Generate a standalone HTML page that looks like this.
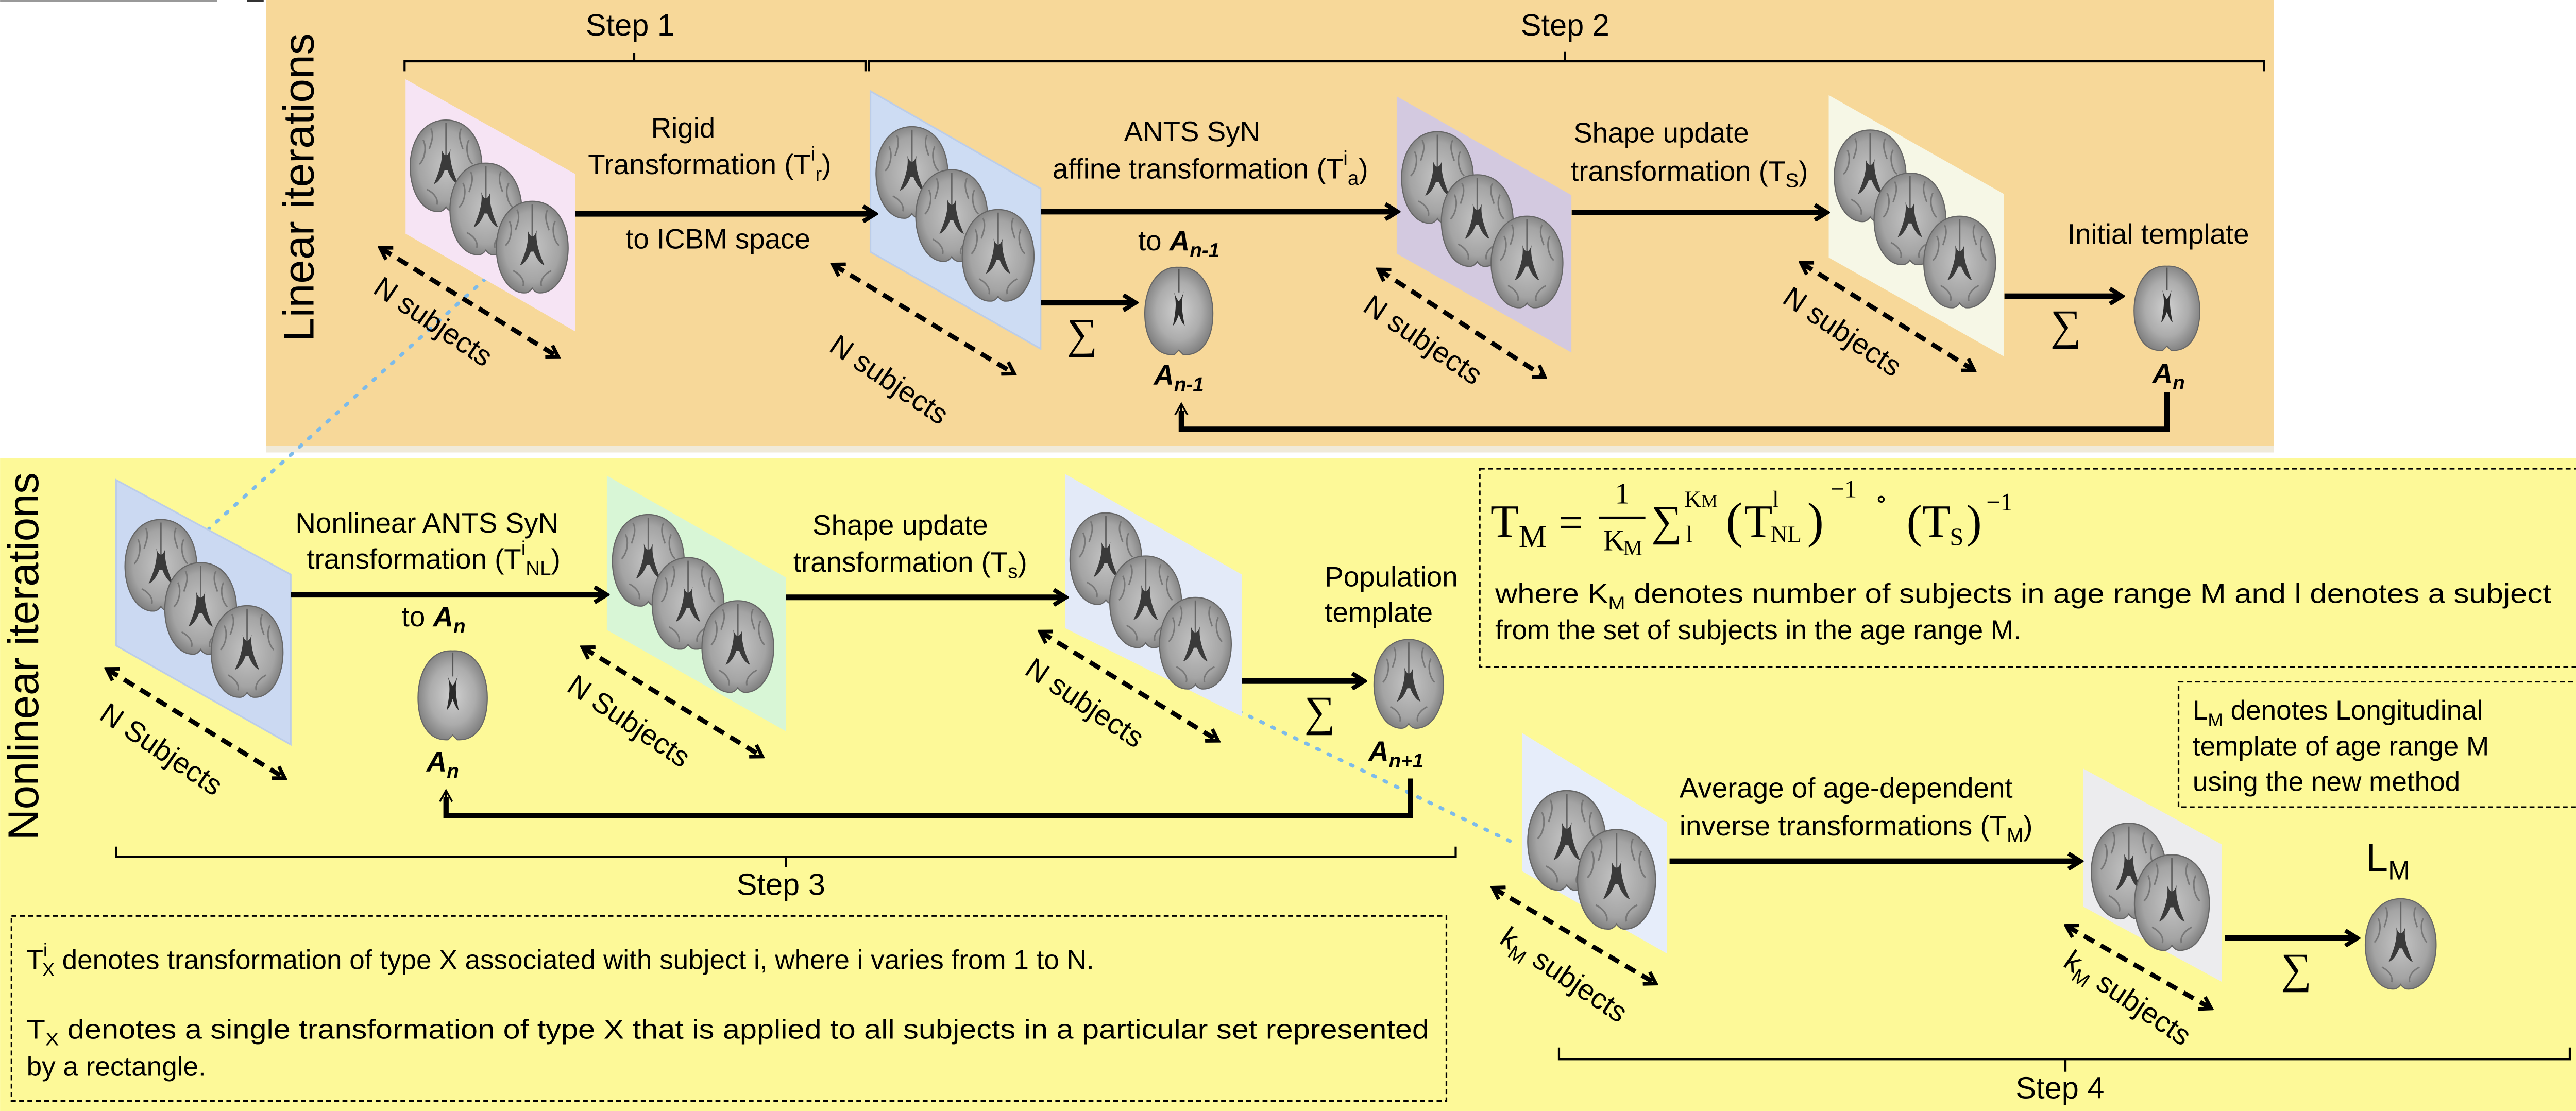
<!DOCTYPE html>
<html><head><meta charset="utf-8"><style>html,body{margin:0;padding:0;background:#fff}svg{display:block}</style></head>
<body>
<svg xmlns="http://www.w3.org/2000/svg" width="5046" height="2157" viewBox="0 0 1568 670.3" font-family="Liberation Sans, Arial, sans-serif">
<defs>
<marker id="a" viewBox="0 0 12 12" refX="9" refY="6" markerWidth="11" markerHeight="11" markerUnits="userSpaceOnUse" orient="auto-start-reverse"><path d="M2,1 L10,6 L2,11" fill="none" stroke="#000" stroke-width="2.8"/></marker>
<marker id="d" viewBox="0 0 12 12" refX="9" refY="6" markerWidth="10" markerHeight="10" markerUnits="userSpaceOnUse" orient="auto-start-reverse"><path d="M2,1 L10,6 L2,11" fill="none" stroke="#000" stroke-width="2.6"/></marker>
<marker id="t" viewBox="0 0 12 12" refX="10" refY="6" markerWidth="9" markerHeight="12" markerUnits="userSpaceOnUse" orient="auto"><path d="M1,1 L10,6 L1,11" fill="none" stroke="#000" stroke-width="1.4"/></marker>
<radialGradient id="g1" cx="50%" cy="50%" r="55%"><stop offset="0" stop-color="#c4c4c4"/><stop offset="0.7" stop-color="#a4a4a4"/><stop offset="1" stop-color="#7a7a7a"/></radialGradient>
<radialGradient id="g2" cx="50%" cy="50%" r="55%"><stop offset="0" stop-color="#d0d0d0"/><stop offset="0.6" stop-color="#acacac"/><stop offset="1" stop-color="#7c7c7c"/></radialGradient>
<symbol id="cor" viewBox="0 0 100 130">
<path d="M50,4 C82,4 98,35 97,68 C96,100 80,126 58,124 C53,123 50,118 50,118 C50,118 47,123 42,124 C20,126 4,100 3,68 C2,35 18,4 50,4Z" fill="url(#g1)" stroke="#666" stroke-width="1.5"/>
<path d="M50,8 L50,60" stroke="#666" stroke-width="2"/>
<path d="M44,42 C46,55 42,70 34,88 C40,86 45,78 48,70 L50,70 L52,70 C55,78 60,86 66,88 C58,70 54,55 56,42 C54,48 52,50 50,50 C48,50 46,48 44,42Z" fill="#3a3a3a"/>
<path d="M20,30 C25,40 22,55 15,62 M80,30 C75,40 78,55 85,62 M25,95 C35,100 40,108 38,115 M75,95 C65,100 60,108 62,115 M30,15 C35,25 30,35 28,42 M70,15 C65,25 70,35 72,42" stroke="#777" stroke-width="2" fill="none"/>
</symbol>
<symbol id="ax" viewBox="0 0 100 130">
<path d="M50,6 C80,4 96,35 96,68 C96,102 82,126 56,124 L50,118 L44,124 C18,126 4,102 4,68 C4,35 20,4 50,6Z" fill="url(#g2)" stroke="#666" stroke-width="1.5"/>
<path d="M50,8 L50,40" stroke="#555" stroke-width="2"/>
<path d="M42,35 C47,50 47,60 42,85 C47,80 49,72 50,70 C51,72 53,80 58,85 C53,60 53,50 58,35 C55,45 52,50 50,52 C48,50 45,45 42,35Z" fill="#2a2a2a"/>
</symbol>
</defs>

<rect x="0" y="0" width="1568" height="670.3" fill="#fff"/>
<line x1="0" y1="0.5" x2="131" y2="0.5" stroke="#999" stroke-width="1"/>
<line x1="149" y1="0.5" x2="159" y2="0.5" stroke="#333" stroke-width="1"/>
<rect x="0" y="276.3" width="1568" height="394" fill="#fdf998"/>
<rect x="160.5" y="0" width="1211" height="269" fill="#f7d899"/>
<rect x="160.5" y="269" width="1211" height="4" fill="#e6dcc0" opacity="0.6"/>

<text transform="translate(189,113) rotate(-90)" text-anchor="middle" font-size="26" textLength="186" lengthAdjust="spacing">Linear iterations</text>
<text transform="translate(23,396) rotate(-90)" text-anchor="middle" font-size="26" textLength="222" lengthAdjust="spacing">Nonlinear iterations</text>

<g fill="none" stroke="#000" stroke-width="1.3">
<path d="M244,43 L244,37 L522,37 L522,43 M382.5,37 L382.5,32"/>
<path d="M524,43 L524,37 L1365.6,37 L1365.6,43 M944,37 L944,31"/>
<path d="M70,510.8 L70,517 L878,517 L878,510.8 M474,517 L474,523"/>
<path d="M940.3,632 L940.3,639 L1550,639 L1550,632 M1245.8,639 L1245.8,646.6"/>
</g>
<text x="380" y="21.4" text-anchor="middle" font-size="18.5">Step 1</text>
<text x="944" y="21.4" text-anchor="middle" font-size="18.5">Step 2</text>
<text x="471" y="540" text-anchor="middle" font-size="18.5">Step 3</text>
<text x="1242.5" y="662.7" text-anchor="middle" font-size="18.5">Step 4</text>

<line x1="293" y1="168" x2="126" y2="319" stroke="#7dbbea" stroke-width="2.2" stroke-dasharray="1.5 6" stroke-linecap="round"/>
<line x1="747" y1="429" x2="916" y2="510" stroke="#7dbbea" stroke-width="2.2" stroke-dasharray="1.5 6" stroke-linecap="round"/>

<polygon points="244.6,47.8 347,105 347,200 244.6,141" fill="#f6e4f4"/>
<polygon points="525,55 627.6,113.8 627.6,210.4 525,152" fill="#cddcf3" stroke="#bccde8" stroke-width="1"/>
<polygon points="842.4,58.1 947.8,117.7 947.8,212.7 842.4,153" fill="#d3c9e0"/>
<polygon points="1103,57.4 1208.6,117 1208.6,215 1103,155.4" fill="#f6f7e6"/>
<polygon points="70,289.6 175.3,346.6 175.3,449.2 70,389.5" fill="#cbd9f2" stroke="#bccde8" stroke-width="1"/>
<polygon points="366,287 474,348.4 474,441.2 366,380" fill="#d8f6d6"/>
<polygon points="642.5,286 749,346.6 749,432.3 642.5,379" fill="#e3eaf8"/>
<polygon points="918,442.2 1005.4,496 1005.4,575.3 918,525.6" fill="#e6edfa"/>
<polygon points="1256.5,463.7 1340,509.4 1340,592.3 1256.5,547" fill="#ececee"/>

<g>
<use href="#cor" x="246" y="70" width="46" height="61"/><use href="#cor" x="270" y="96" width="46" height="61"/><use href="#cor" x="298" y="119" width="46" height="61"/>
<use href="#cor" x="527" y="74" width="46" height="61"/><use href="#cor" x="551" y="100" width="46" height="61"/><use href="#cor" x="579" y="124" width="46" height="61"/>
<use href="#cor" x="844" y="77" width="46" height="61"/><use href="#cor" x="868" y="103" width="46" height="61"/><use href="#cor" x="898" y="128" width="46" height="61"/>
<use href="#cor" x="1105" y="76" width="46" height="61"/><use href="#cor" x="1129" y="102" width="46" height="61"/><use href="#cor" x="1159" y="128" width="46" height="61"/>
<use href="#cor" x="74" y="311" width="46" height="61"/><use href="#cor" x="98" y="337" width="46" height="61"/><use href="#cor" x="126" y="363" width="46" height="61"/>
<use href="#cor" x="368" y="308" width="46" height="61"/><use href="#cor" x="392" y="334" width="46" height="61"/><use href="#cor" x="422" y="360" width="46" height="61"/>
<use href="#cor" x="644" y="307" width="46" height="61"/><use href="#cor" x="668" y="333" width="46" height="61"/><use href="#cor" x="698" y="358" width="46" height="61"/>
<use href="#cor" x="920" y="468" width="50" height="79"/><use href="#cor" x="950" y="490" width="50" height="82"/>
<use href="#cor" x="1260" y="489" width="48" height="74"/><use href="#cor" x="1286" y="507" width="48" height="76"/>
</g>

<use href="#ax" x="686" y="158.6" width="50" height="58"/>
<use href="#ax" x="1282" y="158" width="50" height="56"/>
<use href="#ax" x="248" y="390" width="50" height="59"/>
<use href="#cor" x="824.7" y="384" width="50" height="58"/>
<use href="#cor" x="1424" y="540.4" width="48" height="59"/>

<g stroke="#000" stroke-width="3.4" fill="none" marker-end="url(#a)">
<line x1="347" y1="129" x2="527" y2="129"/>
<line x1="628" y1="127.7" x2="842" y2="127.7"/>
<line x1="948" y1="128.2" x2="1101" y2="128.2"/>
<line x1="628" y1="182.6" x2="684" y2="182.6"/>
<line x1="1209" y1="178.7" x2="1279" y2="178.7"/>
<line x1="175.3" y1="358.8" x2="365" y2="358.8"/>
<line x1="474" y1="360.4" x2="642" y2="360.4"/>
<line x1="749" y1="410.9" x2="822" y2="410.9"/>
<line x1="1007" y1="519.6" x2="1254" y2="519.6"/>
<line x1="1342" y1="566" x2="1421" y2="566"/>
</g>
<g fill="none" stroke="#000" stroke-width="3.2">
<path d="M1307,236.7 L1307,259 L712.5,259 L712.5,248"/>
<path d="M850.6,469.7 L850.6,492 L269,492 L269,481"/>
</g>
<g fill="none" stroke="#000" stroke-width="1.3" marker-end="url(#t)">
<line x1="712.5" y1="252" x2="712.5" y2="243.6"/>
<line x1="269" y1="485" x2="269" y2="476.9"/>
</g>

<g stroke="#000" stroke-width="2.8" fill="none" stroke-dasharray="7 4.5" marker-start="url(#d)" marker-end="url(#d)">
<line x1="230" y1="150" x2="336" y2="215"/>
<line x1="503" y1="160" x2="611" y2="225"/>
<line x1="832" y1="163" x2="931" y2="227"/>
<line x1="1087" y1="159" x2="1190" y2="223"/>
<line x1="65" y1="404" x2="171" y2="469"/>
<line x1="352" y1="391" x2="459" y2="456"/>
<line x1="628" y1="381.5" x2="734" y2="446.5"/>
<line x1="901" y1="536" x2="998" y2="593"/>
<line x1="1247" y1="559" x2="1333" y2="608"/>
</g>
<g font-size="17.5" text-anchor="middle">
<text transform="translate(258,199) rotate(34)">N subjects</text>
<text transform="translate(533,234) rotate(34)">N subjects</text>
<text transform="translate(855,210) rotate(34)">N subjects</text>
<text transform="translate(1108,205) rotate(34)">N subjects</text>
<text transform="translate(94,457) rotate(34)">N Subjects</text>
<text transform="translate(376,440) rotate(34)">N Subjects</text>
<text transform="translate(651,429) rotate(34)">N subjects</text>
<text transform="translate(940,593) rotate(34)">k<tspan font-size="12" dy="4">M</tspan><tspan dy="-4"> subjects</tspan></text>
<text transform="translate(1280,607) rotate(34)">k<tspan font-size="12" dy="4">M</tspan><tspan dy="-4"> subjects</tspan></text>
</g>

<g font-size="17" text-anchor="middle">
<text x="412" y="83">Rigid</text>
<text x="428" y="105">Transformation (T<tspan font-size="12" dy="-8">i</tspan><tspan font-size="12" dy="12">r</tspan><tspan dy="-4">)</tspan></text>
<text x="433" y="150">to ICBM space</text>
<text x="719" y="85.2">ANTS SyN</text>
<text x="730" y="107.6">affine transformation (T<tspan font-size="12" dy="-8">i</tspan><tspan font-size="12" dy="12">a</tspan><tspan dy="-4">)</tspan></text>
<text x="1002" y="86">Shape update</text>
<text x="1019" y="109">transformation (T<tspan font-size="12" dy="4">S</tspan><tspan dy="-4">)</tspan></text>
<text x="257.5" y="321.3">Nonlinear ANTS SyN</text>
<text x="261.5" y="343">transformation (T<tspan font-size="12" dy="-8">i</tspan><tspan font-size="12" dy="12">NL</tspan><tspan dy="-4">)</tspan></text>
<text x="543" y="322.6">Shape update</text>
<text x="549" y="344.9">transformation (T<tspan font-size="12" dy="4">s</tspan><tspan dy="-4">)</tspan></text>
</g>
<g font-size="17">
<text x="1247" y="147">Initial template</text>
<text x="799" y="353.8">Population</text>
<text x="799" y="375.2">template</text>
<text x="1013" y="481.2">Average of age-dependent</text>
<text x="1013" y="504">inverse transformations (T<tspan font-size="12" dy="4">M</tspan><tspan dy="-4">)</tspan></text>
<text x="711" y="151" text-anchor="middle">to <tspan font-weight="bold" font-style="italic">A<tspan font-size="12" dy="4">n-1</tspan></tspan></text>
<text x="261.5" y="377.9" text-anchor="middle">to <tspan font-weight="bold" font-style="italic">A<tspan font-size="12" dy="4">n</tspan></tspan></text>
</g>
<g font-size="17" font-weight="bold" font-style="italic" text-anchor="middle">
<text x="711" y="232">A<tspan font-size="12" dy="4">n-1</tspan></text>
<text x="1308" y="231">A<tspan font-size="12" dy="4">n</tspan></text>
<text x="267" y="465.3">A<tspan font-size="12" dy="4">n</tspan></text>
<text x="842" y="459">A<tspan font-size="12" dy="4">n+1</tspan></text>
</g>
<g font-family="Liberation Serif, DejaVu Serif, serif" font-size="26" text-anchor="middle">
<text x="652.6" y="210">∑</text>
<text x="1246" y="205">∑</text>
<text x="796" y="438">∑</text>
<text x="1385" y="593">∑</text>
</g>
<text x="1427" y="525.6" font-size="24">L<tspan font-size="16" dy="5">M</tspan></text>

<rect x="892.5" y="282.8" width="668.5" height="119.6" fill="none" stroke="#000" stroke-width="1" stroke-dasharray="3 2"/>
<g font-family="Liberation Serif, DejaVu Serif, serif">
<text x="899" y="324" font-size="28">T</text><text x="916" y="330" font-size="19">M</text>
<text x="940" y="324" font-size="26">=</text>
<text x="978.5" y="303.7" font-size="18" text-anchor="middle">1</text>
<line x1="964.5" y1="312.3" x2="992.4" y2="312.3" stroke="#000" stroke-width="1.3"/>
<text x="967" y="332" font-size="18">K</text><text x="979" y="335" font-size="13">M</text>
<text x="996" y="323" font-size="26">∑</text>
<text x="1016" y="306" font-size="14">K<tspan font-size="11">M</tspan></text>
<text x="1017" y="327" font-size="14">l</text>
<text x="1041" y="324" font-size="30">(</text>
<text x="1052" y="324" font-size="28">T</text>
<text x="1069" y="306" font-size="14">l</text>
<text x="1068" y="327" font-size="14">NL</text>
<text x="1090" y="324" font-size="30">)</text>
<text x="1104" y="300" font-size="15">−1</text>
<text x="1131" y="306" font-size="15">∘</text>
<text x="1150" y="324" font-size="28">(T</text>
<text x="1176" y="329" font-size="15">S</text>
<text x="1186" y="324" font-size="28">)</text>
<text x="1198" y="308" font-size="15">−1</text>
</g>
<g font-size="16.5">
<text x="901.8" y="363.7" textLength="637" lengthAdjust="spacingAndGlyphs">where K<tspan font-size="11" dy="4">M</tspan><tspan dy="-4"> denotes number of subjects in age range M and l denotes a subject</tspan></text>
<text x="901.8" y="385.7">from the set of subjects in the age range M.</text>
</g>

<rect x="1314" y="411.3" width="247" height="75.7" fill="none" stroke="#000" stroke-width="1" stroke-dasharray="3 2"/>
<g font-size="16.5">
<text x="1322.5" y="434.1">L<tspan font-size="11" dy="4">M</tspan><tspan dy="-4"> denotes Longitudinal</tspan></text>
<text x="1322.5" y="455.7">template of age range M</text>
<text x="1322.5" y="477.2">using the new method</text>
</g>

<rect x="6.9" y="552.6" width="865.5" height="111.6" fill="none" stroke="#000" stroke-width="1" stroke-dasharray="3 2"/>
<g font-size="16.5">
<text x="16" y="584.7">T<tspan font-size="11" dy="-8">i</tspan><tspan font-size="11" dy="12" dx="-3">X</tspan><tspan dy="-4"> denotes transformation of type X associated with subject i, where i varies from 1 to N.</tspan></text>
<text x="16" y="626.7" textLength="846" lengthAdjust="spacingAndGlyphs">T<tspan font-size="11" dy="4">X</tspan><tspan dy="-4"> denotes a single transformation of type X that is applied to all subjects in a particular set represented</tspan></text>
<text x="16" y="649">by a rectangle.</text>
</g>
</svg>
</body></html>
